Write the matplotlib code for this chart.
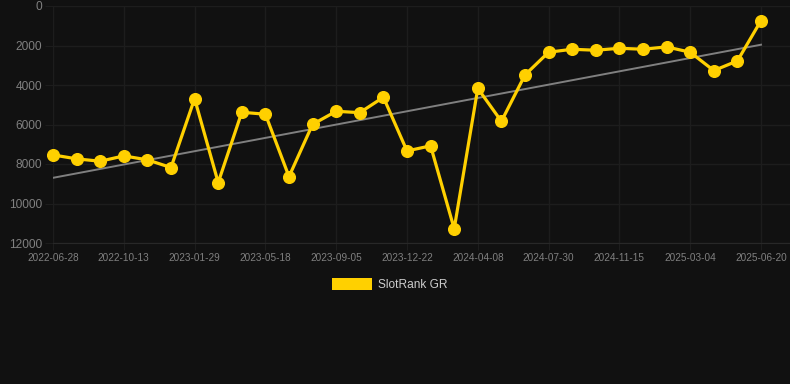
import matplotlib
matplotlib.use("Agg")
import matplotlib.pyplot as plt
from matplotlib.patches import Rectangle
import numpy as np

tick_labels = ["2022-06-28", "2022-10-13", "2023-01-29", "2023-05-18", "2023-09-05",
               "2023-12-22", "2024-04-08", "2024-07-30", "2024-11-15", "2025-03-04",
               "2025-06-20"]
rank_values = [7540, 7740, 7860, 7590, 7790, 8180, 4690, 8940, 5380, 5480,
               8640, 5990, 5330, 5400, 4620, 7340, 7080, 11280, 4170, 5840,
               3490, 2340, 2190, 2240, 2140, 2190, 2070, 2340, 3270, 2780, 740]
trend_start = 8700
trend_end = 1960
series_name = "SlotRank GR"

W, H = 790, 384
fig = plt.figure(figsize=(W / 100, H / 100), dpi=100)
bg = "#111111"
fig.patch.set_facecolor(bg)

left_px, right_px, top_px, bottom_px = 53, 790, 6, 243
ax = fig.add_axes([left_px / W, 1 - bottom_px / H, (right_px - left_px) / W, (bottom_px - top_px) / H])
ax.set_facecolor(bg)

x = np.arange(len(rank_values))
n = len(rank_values) - 1
ax.set_xlim(0, n * (right_px - left_px) / (761 - left_px))
ax.set_ylim(12000, 0)

grid_c = "#1d1d1d"
ax.set_yticks(range(0, 12001, 2000))
ax.set_yticklabels([str(v) for v in range(0, 12001, 2000)])
ax.set_xticks(x[::3])
ax.set_xticklabels(tick_labels)
ax.grid(True, color=grid_c, linewidth=1)
ax.tick_params(axis="y", length=6, color=grid_c, pad=2, labelsize=8.6, labelcolor="#808080")
ax.tick_params(axis="x", length=5, color=grid_c, pad=2, labelsize=7.2, labelcolor="#808080")
for lab in ax.get_xticklabels() + ax.get_yticklabels():
    lab.set_fontfamily("Liberation Sans")
for s in ["top", "right", "left"]:
    ax.spines[s].set_visible(False)
ax.spines["bottom"].set_color("#282828")

ax.plot([x[0], x[-1]], [trend_start, trend_end], color="#808080", linewidth=1.4, zorder=2)
ax.plot(x, rank_values, color="#FFD000", linewidth=2.3, marker="o", markersize=8.4,
        markerfacecolor="#FFD000", markeredgecolor="#FFD000", zorder=3, clip_on=False)

fig.add_artist(Rectangle((332 / W, 1 - 289.7 / H), 40 / W, 11.4 / H,
                         transform=fig.transFigure, facecolor="#FFD000", edgecolor="none"))
fig.text(378 / W, 1 - 284.5 / H, series_name, color="#cccccc", fontsize=8.6,
         fontfamily="Liberation Sans", va="center", ha="left")

fig.savefig("out.png", dpi=100, facecolor=bg)
